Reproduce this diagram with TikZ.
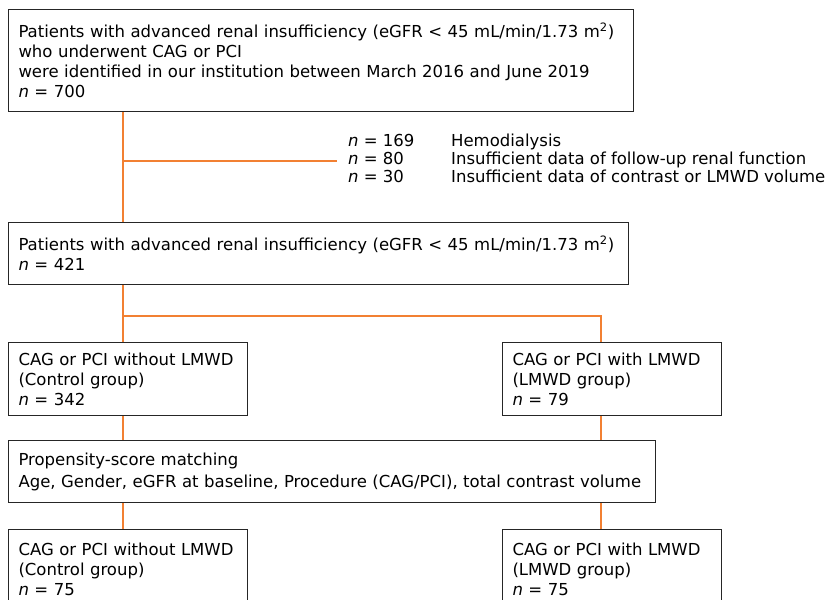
\documentclass[tikz,border=0pt]{standalone}
\usepackage{fontspec}
\setmainfont{DejaVu Sans}
\usepackage{tikz}
\usetikzlibrary{calc,positioning}
\definecolor{linkorange}{RGB}{242,128,50}
\tikzset{
        block/.style = {draw=black!85, rectangle, line width=1pt,
            anchor=north west, align=left,
            inner xsep=10pt, inner ysep=0pt,
            font=\fontsize{16.5}{20}\selectfont},
        link/.style = {draw, color=linkorange, line width=1.2pt},
    }

\begin{document}
\begin{tikzpicture}[x=1pt,y=-1pt]
    \useasboundingbox (0,0) rectangle (828,600);
    \clip (0,0) rectangle (828,600);
    \fill[white] (0,0) rectangle (828,600);

    \coordinate (tl) at (123,0);
    \coordinate (tr) at (601,0);

    \node[block, minimum width=625pt, minimum height=102pt, text width=605pt] (start) at (8,9)
        {Patients with advanced renal insufficiency (eGFR < 45 mL/min/1.73 m\textsuperscript{2})\\
         who underwent CAG or PCI\\
         were identified in our institution between March 2016 and June 2019\\
         \textit{n} = 700};

    \node[anchor=west, inner sep=0pt, font=\fontsize{16.5}{19}\selectfont] (excl) at (348,161)
        {\begin{tabular}{@{}p{103pt}@{}l@{}}
         \textit{n} = 169 & Hemodialysis\\[-1pt]
         \textit{n} = 80 & Insufficient data of follow-up renal function\\[-1pt]
         \textit{n} = 30 & Insufficient data of contrast or LMWD volume
         \end{tabular}};

    \node[block, minimum width=620pt, minimum height=62pt, text width=600pt] (elig) at (8,222)
        {Patients with advanced renal insufficiency (eGFR < 45 mL/min/1.73 m\textsuperscript{2})\\
         \textit{n} = 421};

    \node[block, minimum width=239pt, minimum height=73pt, text width=219pt] (ctrl) at (8,342)
        {CAG or PCI without LMWD\\(Control group)\\\textit{n} = 342};
    \node[block, minimum width=219pt, minimum height=73pt, text width=199pt] (lmwd) at (502,342)
        {CAG or PCI with LMWD\\(LMWD group)\\\textit{n} = 79};

    \node[block, minimum width=647pt, minimum height=62pt, text width=627pt,
          font=\fontsize{16.5}{22}\selectfont] (psm) at (8,440)
        {Propensity-score matching\\
         Age, Gender, eGFR at baseline, Procedure (CAG/PCI), total contrast volume};

    \node[block, minimum width=239pt, minimum height=80pt, text width=219pt] (ctrlm) at (8,529)
        {CAG or PCI without LMWD\\(Control group)\\\textit{n} = 75};
    \node[block, minimum width=219pt, minimum height=80pt, text width=199pt] (lmwdm) at (502,529)
        {CAG or PCI with LMWD\\(LMWD group)\\\textit{n} = 75};

    \draw[link] (start.south -| tl) -- (elig.north -| tl);
    \draw[link] (excl.west -| tl) -- ($(excl.west)+(-11,0)$);
    \draw[link] (elig.south -| tl) -- (ctrl.north -| tl);
    \draw[link] ($(elig.south -| tl)!0.543!(ctrl.north -| tl)$) -| (lmwd.north -| tr);
    \draw[link] (ctrl.south -| tl) -- (psm.north -| tl);
    \draw[link] (lmwd.south -| tr) -- (psm.north -| tr);
    \draw[link] (psm.south -| tl) -- (ctrlm.north -| tl);
    \draw[link] (psm.south -| tr) -- (lmwdm.north -| tr);
\end{tikzpicture}
\end{document}
